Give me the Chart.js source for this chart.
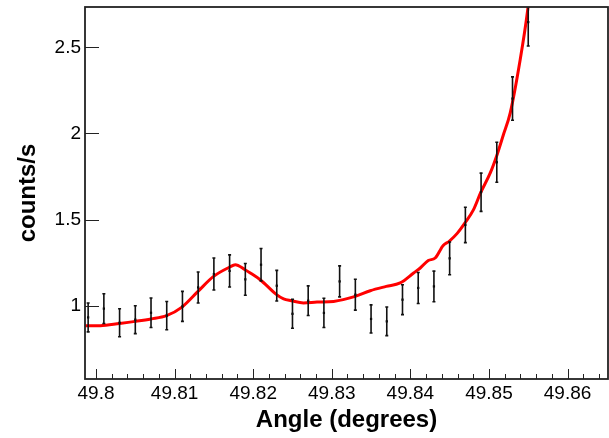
<!DOCTYPE html>
<html>
<head>
<meta charset="utf-8">
<script src="https://cdn.jsdelivr.net/npm/chart.js@4/dist/chart.umd.min.js"></script>
<style>
html,body{margin:0;padding:0;background:#fff;}
canvas{display:block;}
</style>
</head>
<body>
<canvas id="c" width="609" height="438"></canvas>
<script>
// ---- data ----
const angles = [49.799,49.801,49.803,49.805,49.807,49.809,49.811,49.813,49.815,49.817,
                49.819,49.821,49.823,49.825,49.827,49.829,49.831,49.833,49.835,49.837,
                49.839,49.841,49.843,49.845,49.847,49.849,49.851,49.853,49.855];
const counts = [0.932,0.983,0.901,0.919,0.959,0.942,0.996,1.106,1.184,1.202,
                1.153,1.238,1.116,0.953,1.029,0.958,1.141,1.064,0.923,0.909,
                1.035,1.103,1.112,1.275,1.469,1.659,1.833,2.203,2.647];
const errors = [0.084,0.086,0.081,0.081,0.086,0.082,0.087,0.090,0.093,0.093,
                0.092,0.094,0.089,0.084,0.086,0.085,0.090,0.090,0.082,0.083,
                0.087,0.090,0.089,0.095,0.103,0.111,0.116,0.126,0.139];
const fitAngles = [49.79864,49.80055,49.80300,49.80500,49.80700,49.80898,49.81094,49.81298,49.81496,49.81696,
                   49.81772,49.81896,49.81963,49.82097,49.82298,49.82387,49.82485,49.82641,49.82812,49.83023,
                   49.83299,49.83490,49.83693,49.83871,49.84041,49.84126,49.84228,49.84316,49.84418,49.84494,
                   49.84596,49.84695,49.84804,49.84893,49.85017,49.85097,49.85182,49.85271,49.85398,49.85491,49.85525];
const fitCounts = [0.884,0.884,0.897,0.909,0.923,0.942,0.992,1.083,1.170,1.223,
                   1.238,1.209,1.190,1.148,1.064,1.039,1.029,1.016,1.021,1.025,
                   1.054,1.087,1.112,1.132,1.190,1.219,1.262,1.277,1.350,1.374,
                   1.420,1.481,1.558,1.655,1.771,1.868,1.990,2.120,2.430,2.710,2.850];
const xTickValues = [49.80,49.81,49.82,49.83,49.84,49.85,49.86];
const xTickLabels = ['49.8','49.81','49.82','49.83','49.84','49.85','49.86'];
const yTickValues = [1,1.5,2,2.5];
const yTickLabels = ['1','1.5','2','2.5'];
const xMinorStep = 0.002;
const xMin = 49.7986, xMax = 49.86515;
const yMin = 0.5743, yMax = 2.7346;

const FONT = '"Liberation Sans", Arial, Helvetica, sans-serif';

const pointData = angles.map((a,i)=>({x:a, y:counts[i]}));
const fitData = fitAngles.map((a,i)=>({x:a, y:fitCounts[i]}));

const errorBarPlugin = {
  id:'errorBars',
  afterDatasetsDraw(chart){
    const {ctx, chartArea:a, scales:{x,y}} = chart;
    ctx.save();
    ctx.beginPath();
    ctx.rect(a.left, a.top, a.right-a.left, a.bottom-a.top);
    ctx.clip();
    ctx.strokeStyle = '#111';
    ctx.lineWidth = 1.6;
    angles.forEach((ang,i)=>{
      const px = x.getPixelForValue(ang);
      const pTop = y.getPixelForValue(counts[i]+errors[i]);
      const pBot = y.getPixelForValue(counts[i]-errors[i]);
      ctx.beginPath();
      ctx.moveTo(px, pTop); ctx.lineTo(px, pBot);
      ctx.moveTo(px-1.5, pTop); ctx.lineTo(px+1.5, pTop);
      ctx.moveTo(px-1.5, pBot); ctx.lineTo(px+1.5, pBot);
      ctx.stroke();
    });
    ctx.restore();
  }
};

const framePlugin = {
  id:'frame',
  afterDraw(chart){
    const {ctx, chartArea:a, scales:{x,y}} = chart;
    ctx.save();
    ctx.strokeStyle = '#222';
    ctx.lineWidth = 1;
    ctx.beginPath();
    xTickValues.forEach(v=>{
      const px = Math.round(x.getPixelForValue(v))+0.5;
      ctx.moveTo(px, a.bottom); ctx.lineTo(px, a.bottom-10);
    });
    for(let k=Math.ceil(xMin/xMinorStep); k*xMinorStep<=xMax; k++){
      const v = k*xMinorStep;
      const px = Math.round(x.getPixelForValue(v))+0.5;
      ctx.moveTo(px, a.bottom); ctx.lineTo(px, a.bottom-5);
    }
    yTickValues.forEach(v=>{
      const py = Math.round(y.getPixelForValue(v))+0.5;
      ctx.moveTo(a.left, py); ctx.lineTo(a.left+14, py);
    });
    ctx.stroke();
    ctx.lineWidth = 1.8;
    ctx.strokeRect(a.left, a.top, a.right-a.left, a.bottom-a.top);
    ctx.restore();
  }
};

new Chart(document.getElementById('c'), {
  type:'scatter',
  data:{
    datasets:[
      {type:'line', data:fitData, borderColor:'#ff0000', borderWidth:3, pointRadius:0, fill:false,
       cubicInterpolationMode:'monotone', order:2},
      {type:'scatter', data:pointData, pointStyle:'rect', pointRadius:1.6, backgroundColor:'#000',
       borderColor:'#000', borderWidth:0, order:1}
    ]
  },
  options:{
    responsive:false, animation:false, devicePixelRatio:1,
    layout:{autoPadding:false, padding:{top:7,right:1,left:0,bottom:0}},
    plugins:{legend:{display:false}, tooltip:{enabled:false}},
    scales:{
      x:{
        type:'linear', min:xMin, max:xMax,
        grid:{display:false, drawTicks:false}, border:{display:false},
        afterFit(s){ s.height = 59; s.paddingLeft = 0; s.paddingRight = 0; },
        afterBuildTicks(s){ s.ticks = xTickValues.map(v=>({value:v})); },
        ticks:{callback:(v,i)=>xTickLabels[i], font:{family:FONT, size:19}, color:'#000',
               padding:3, maxRotation:0, autoSkip:false},
        title:{display:true, text:'Angle (degrees)', color:'#000',
               font:{family:FONT, size:24, weight:'bold'}, padding:{top:0,bottom:3}}
      },
      y:{
        type:'linear', min:yMin, max:yMax,
        grid:{display:false, drawTicks:false}, border:{display:false},
        afterFit(s){ s.width = 85; s.paddingTop = 0; s.paddingBottom = 0; },
        afterBuildTicks(s){ s.ticks = yTickValues.map(v=>({value:v})); },
        ticks:{callback:(v,i)=>yTickLabels[i], font:{family:FONT, size:19}, color:'#000',
               padding:4, autoSkip:false},
        title:{display:true, text:'counts/s', color:'#000',
               font:{family:FONT, size:24, weight:'bold'}, padding:{top:14,bottom:0}}
      }
    }
  },
  plugins:[errorBarPlugin, framePlugin]
});
</script>
</body>
</html>
